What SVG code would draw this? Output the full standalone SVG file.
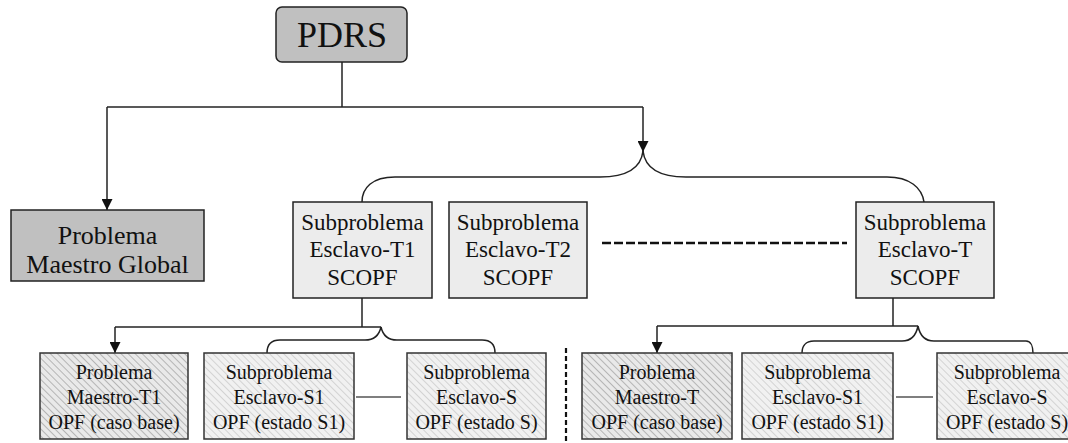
<svg xmlns="http://www.w3.org/2000/svg" width="1068" height="443" viewBox="0 0 1068 443">
<style>
text{font-family:"Liberation Serif","Times New Roman",serif;fill:#111;text-anchor:middle}
.dark{fill:#c0c0c0;stroke:#222;stroke-width:1.5}
.light{fill:#ececec;stroke:#222;stroke-width:1.5}
.hatchA{fill:url(#hA);stroke:#333;stroke-width:1.5}
.hatchB{fill:url(#hB);stroke:#333;stroke-width:1.5}
.ln{fill:none;stroke:#222;stroke-width:1.5}
.t1{font-size:36px}
.t2{font-size:26px}
.t3{font-size:23px}
.t4{font-size:20px}
</style>
<defs>
<marker id="arrB" viewBox="0 0 12 12" refX="12" refY="6" markerWidth="12" markerHeight="11" markerUnits="userSpaceOnUse" orient="auto">
<path d="M0,0 L12,6 L0,12 z" fill="#111"/>
</marker>
<pattern id="hA" width="5" height="5" patternUnits="userSpaceOnUse" patternTransform="rotate(-45)">
<rect width="5" height="5" fill="#e9e9e9"/>
<line x1="0" y1="0" x2="0" y2="5" stroke="#b5b5b5" stroke-width="2"/>
</pattern>
<pattern id="hB" width="5" height="5" patternUnits="userSpaceOnUse" patternTransform="rotate(-45)">
<rect width="5" height="5" fill="#f1f1f1"/>
<line x1="0" y1="0" x2="0" y2="5" stroke="#d0d0d0" stroke-width="1.8"/>
</pattern>
</defs>

<g id="connectors">
<path class="ln" d="M342,62 V107"/>
<path class="ln" d="M107,107 H643"/>
<path class="ln" d="M107,107 V210" marker-end="url(#arrB)"/>
<path class="ln" d="M643,107 V152" marker-end="url(#arrB)"/>
<path class="ln" d="M643,151 C641,168 628,177 600,177 L395,177 C372,177 362,188 362,202"/>
<path class="ln" d="M643,151 C645,168 658,177 686,177 L887,177 C910,177 922,188 924,202"/>
<path d="M602,243 H847" fill="none" stroke="#111" stroke-width="2.4" stroke-dasharray="9,3"/>
<path class="ln" d="M362,298 V327"/>
<path class="ln" d="M115,327 H381"/>
<path class="ln" d="M115,327 V353" marker-end="url(#arrB)"/>
<path class="ln" d="M381,327 C379,336 374,340 365,340 L280,340 C270,340 267,346 267,353"/>
<path class="ln" d="M381,327 C383,336 388,340 397,340 L482,340 C492,340 495,346 495,353"/>
<path d="M356,397 H401" fill="none" stroke="#555" stroke-width="1.5"/>
<path d="M566,348 V443" fill="none" stroke="#111" stroke-width="2.2" stroke-dasharray="5,3"/>
<path class="ln" d="M893,298 V326"/>
<path class="ln" d="M657,326 H918"/>
<path class="ln" d="M657,326 V353" marker-end="url(#arrB)"/>
<path class="ln" d="M918,326 C916,336 911,341 902,341 L814,341 C805,341 802,347 802,353"/>
<path class="ln" d="M918,326 C920,336 925,341 934,341 L1026,341 C1031,341 1033,347 1033,353"/>
<path d="M896,397 H933" fill="none" stroke="#555" stroke-width="1.5"/>
</g>

<g id="pdrs">
<rect class="dark" x="276" y="7" width="131" height="55" rx="6"/>
<text class="t1" x="342" y="47">PDRS</text>
</g>

<g id="maestro-global">
<rect class="dark" x="11" y="210" width="193" height="71"/>
<text class="t2" x="107.5" y="244">Problema</text>
<text class="t2" x="107.5" y="273">Maestro Global</text>
</g>

<g id="esclavo-t1">
<rect class="light" x="293" y="202" width="139" height="96"/>
<text class="t3" x="362.5" y="230">Subproblema</text>
<text class="t3" x="362.5" y="257">Esclavo-T1</text>
<text class="t3" x="362.5" y="285">SCOPF</text>
</g>

<g id="esclavo-t2">
<rect class="light" x="449" y="202" width="138" height="96"/>
<text class="t3" x="518" y="230">Subproblema</text>
<text class="t3" x="518" y="257">Esclavo-T2</text>
<text class="t3" x="518" y="285">SCOPF</text>
</g>

<g id="esclavo-t">
<rect class="light" x="856" y="202" width="138" height="96"/>
<text class="t3" x="925" y="230">Subproblema</text>
<text class="t3" x="925" y="257">Esclavo-T</text>
<text class="t3" x="925" y="285">SCOPF</text>
</g>

<g id="maestro-t1">
<rect class="hatchA" x="40" y="353" width="148" height="86"/>
<text class="t4" x="114" y="379">Problema</text>
<text class="t4" x="114" y="404">Maestro-T1</text>
<text class="t4" x="114" y="429">OPF (caso base)</text>
</g>

<g id="t1-esclavo-s1">
<rect class="hatchB" x="204" y="353" width="150" height="86"/>
<text class="t4" x="279" y="379">Subproblema</text>
<text class="t4" x="279" y="404">Esclavo-S1</text>
<text class="t4" x="279" y="429">OPF (estado S1)</text>
</g>

<g id="t1-esclavo-s">
<rect class="hatchB" x="407" y="353" width="139" height="86"/>
<text class="t4" x="476.5" y="379">Subproblema</text>
<text class="t4" x="476.5" y="404">Esclavo-S</text>
<text class="t4" x="476.5" y="429">OPF (estado S)</text>
</g>

<g id="maestro-t">
<rect class="hatchA" x="582" y="353" width="150" height="86"/>
<text class="t4" x="657" y="379">Problema</text>
<text class="t4" x="657" y="404">Maestro-T</text>
<text class="t4" x="657" y="429">OPF (caso base)</text>
</g>

<g id="t-esclavo-s1">
<rect class="hatchB" x="742" y="353" width="151" height="86"/>
<text class="t4" x="817.5" y="379">Subproblema</text>
<text class="t4" x="817.5" y="404">Esclavo-S1</text>
<text class="t4" x="817.5" y="429">OPF (estado S1)</text>
</g>

<g id="t-esclavo-s">
<rect class="hatchB" x="937" y="353" width="140" height="86"/>
<text class="t4" x="1007" y="379">Subproblema</text>
<text class="t4" x="1007" y="404">Esclavo-S</text>
<text class="t4" x="1007" y="429">OPF (estado S)</text>
</g>
</svg>
